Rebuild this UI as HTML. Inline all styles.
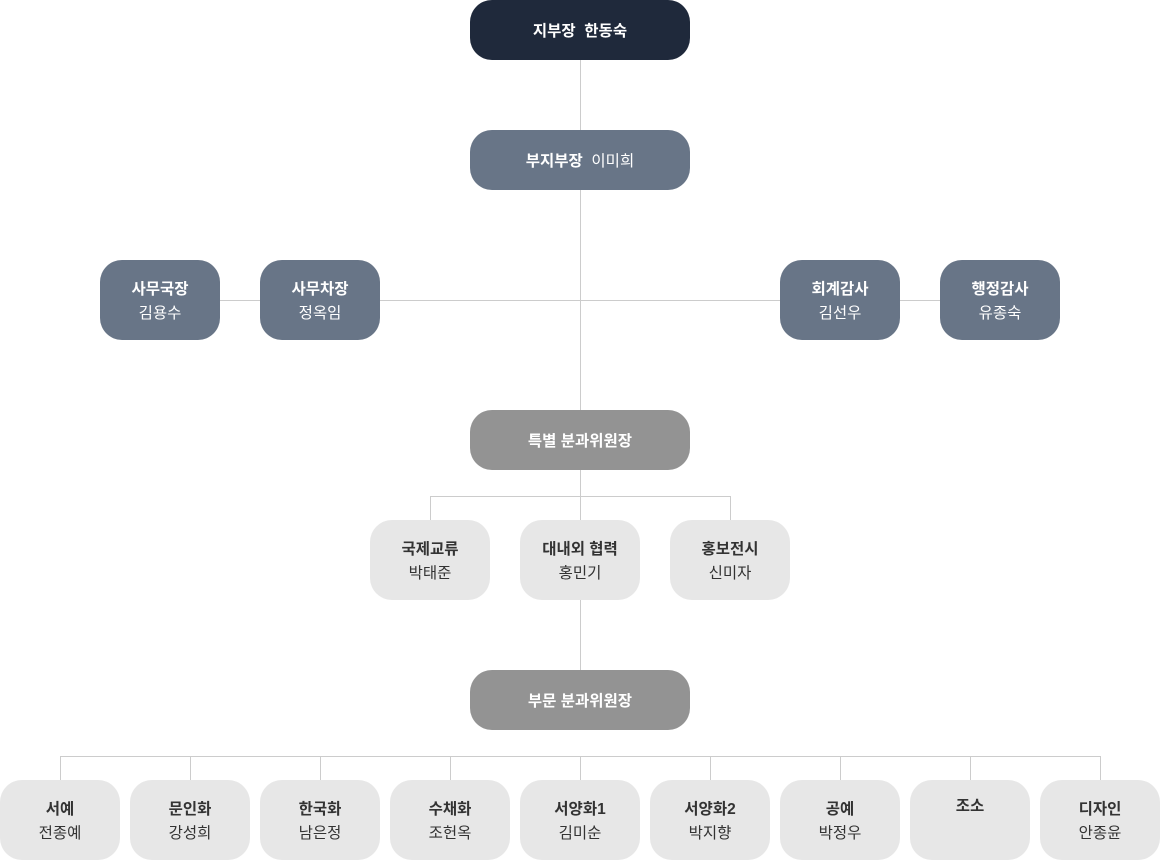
<!DOCTYPE html>
<html><head><meta charset="utf-8"><style>
body{margin:0;width:1160px;height:860px;background:#fff;position:relative;overflow:hidden;font-family:"Liberation Sans","Noto Sans CJK KR",sans-serif}
.b{position:absolute;border-radius:22px;display:flex;flex-direction:column;align-items:center;justify-content:center;font-size:15.5px;line-height:24px;text-align:center;padding-top:3px;box-sizing:border-box}
.b b{font-weight:bold}
.d{background:#1f293b;color:#fff}
.s{background:#687587;color:#fff}
.g{background:#939393;color:#fff}
.l{background:#e7e7e7;color:#333}
.w{width:120px;height:80px}
.t{left:470px;width:220px;height:60px}
svg{position:absolute;left:0;top:0}
</style></head><body>
<svg width="1160" height="860"><g stroke="#cccccc" stroke-width="1" fill="none">
<line x1="580.5" y1="30" x2="580.5" y2="700"/>
<line x1="160" y1="300.5" x2="1000" y2="300.5"/>
<path d="M430.5 520V496.5H730.5V520"/>
<path d="M60.5 780V756.5H1100.5V780"/>
<line x1="190.5" y1="756" x2="190.5" y2="780"/><line x1="320.5" y1="756" x2="320.5" y2="780"/>
<line x1="450.5" y1="756" x2="450.5" y2="780"/><line x1="710.5" y1="756" x2="710.5" y2="780"/>
<line x1="840.5" y1="756" x2="840.5" y2="780"/><line x1="970.5" y1="756" x2="970.5" y2="780"/>
<line x1="580.5" y1="756" x2="580.5" y2="780"/>
</g></svg>
<div class="b d t" style="top:0"><b>지부장&nbsp; 한동숙</b></div>
<div class="b s t" style="top:130px"><span><b>부지부장</b>&nbsp; 이미희</span></div>
<div class="b s w" style="left:100px;top:260px"><b>사무국장</b><span>김용수</span></div>
<div class="b s w" style="left:260px;top:260px"><b>사무차장</b><span>정옥임</span></div>
<div class="b s w" style="left:780px;top:260px"><b>회계감사</b><span>김선우</span></div>
<div class="b s w" style="left:940px;top:260px"><b>행정감사</b><span>유종숙</span></div>
<div class="b g t" style="top:410px"><b>특별 분과위원장</b></div>
<div class="b l w" style="left:370px;top:520px"><b>국제교류</b><span>박태준</span></div>
<div class="b l w" style="left:520px;top:520px"><b>대내외 협력</b><span>홍민기</span></div>
<div class="b l w" style="left:670px;top:520px"><b>홍보전시</b><span>신미자</span></div>
<div class="b g t" style="top:670px"><b>부문 분과위원장</b></div>
<div class="b l w" style="left:0;top:780px"><b>서예</b><span>전종예</span></div>
<div class="b l w" style="left:130px;top:780px"><b>문인화</b><span>강성희</span></div>
<div class="b l w" style="left:260px;top:780px"><b>한국화</b><span>남은정</span></div>
<div class="b l w" style="left:390px;top:780px"><b>수채화</b><span>조헌옥</span></div>
<div class="b l w" style="left:520px;top:780px"><b>서양화1</b><span>김미순</span></div>
<div class="b l w" style="left:650px;top:780px"><b>서양화2</b><span>박지향</span></div>
<div class="b l w" style="left:780px;top:780px"><b>공예</b><span>박정우</span></div>
<div class="b l w" style="left:910px;top:780px;justify-content:flex-start;padding-top:15px"><b>조소</b></div>
<div class="b l w" style="left:1040px;top:780px"><b>디자인</b><span>안종윤</span></div>
</body></html>
